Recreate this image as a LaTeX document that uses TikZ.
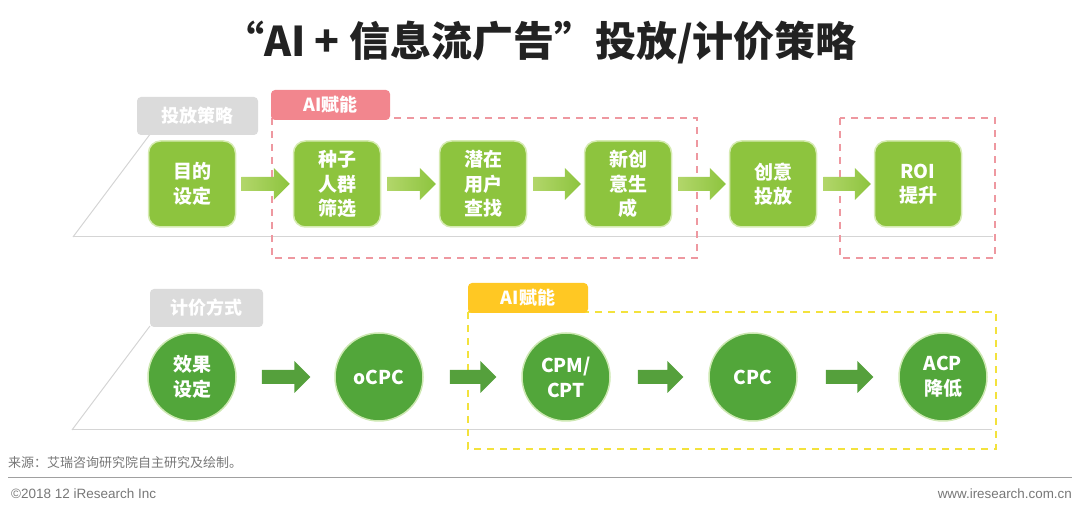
\documentclass[tikz,border=0pt]{standalone}
\usepackage{fontspec}
\setmainfont{Noto Sans CJK SC}
\newfontfamily\arialf{Liberation Sans}
\usetikzlibrary{calc}
\definecolor{limeg}{HTML}{8DC43E}
\definecolor{limel}{HTML}{B2D66A}
\definecolor{darkg}{HTML}{52A63A}
\definecolor{darkarr}{HTML}{55A03C}
\definecolor{tabgray}{HTML}{DBDBDB}
\definecolor{tabpink}{HTML}{F2868E}
\definecolor{tabyel}{HTML}{FFC823}
\definecolor{dashpink}{HTML}{EE98A0}
\definecolor{dashyel}{HTML}{F3E23C}
\definecolor{lgray}{HTML}{D5D5D5}
\definecolor{foot}{HTML}{777777}
\newcommand\fatarr[5]{%
  \shade[#3] let \p1=(#1.east), \p2=(#2.west) in
    (\x1+#4,\y1+7pt) -- (\x2-#5-16pt,\y1+7pt) -- (\x2-#5-16pt,\y1+16pt) -- (\x2-#5,\y1)
    -- (\x2-#5-16pt,\y1-16pt) -- (\x2-#5-16pt,\y1-7pt) -- (\x1+#4,\y1-7pt) -- cycle;}
\begin{document}
\begin{tikzpicture}[x=1pt,y=-1pt,
  sq/.style={fill=limeg, draw={rgb,255:red,214;green,235;blue,178}, line width=1.5pt, rounded corners=12pt,
     minimum width=87pt, minimum height=86pt, align=center, text=white,
     font=\bfseries\fontsize{19}{24.5}\selectfont, inner sep=0pt},
  circ/.style={circle, fill=darkg, draw={rgb,255:red,205;green,232;blue,178}, line width=1.5pt,
     minimum size=88pt, align=center, text=white,
     font=\bfseries\fontsize{19}{25}\selectfont, inner sep=0pt},
  tab/.style={rounded corners=4pt, text=white, font=\bfseries\fontsize{18}{20}\selectfont, inner sep=0pt},
  topar/.style={left color=limel, right color=limeg},
  botar/.style={left color=darkarr, right color=darkarr},
  thinline/.style={draw=lgray, line width=1pt}
]
\useasboundingbox (0,0) rectangle (1080,518);

% title
\node[font=\bfseries\fontsize{41}{45}\selectfont, text={rgb,255:red,34;green,34;blue,34}] (title) at (540,42) {“AI + 信息流广告”投放/计价策略};

% top frame lines
\coordinate (tl1) at (73,237);
\coordinate (tl2) at (151,133);
\coordinate (tl3) at (993,237);
\draw[thinline] (tl1) -- (tl2);
\draw[thinline] (tl1) -- (tl3);
% bottom frame lines
\coordinate (bl1) at (72,430);
\coordinate (bl2) at (150,326);
\coordinate (bl3) at (992,430);
\draw[thinline] (bl1) -- (bl2);
\draw[thinline] (bl1) -- (bl3);

% dashed AI regions
\draw[dashpink, line width=1.3pt, dash pattern=on 7pt off 6pt] (272,118) rectangle (697,258);
\draw[dashpink, line width=1.3pt, dash pattern=on 7pt off 6pt] (840,118) rectangle (995,258);
\draw[dashyel, line width=1.3pt, dash pattern=on 7pt off 6pt] (468,312) rectangle (996,449);

% tabs
\node[tab, fill=tabgray, minimum width=121pt, minimum height=38pt] (tab1) at (197.5,116) {投放策略};
\node[tab, fill=tabpink, minimum width=119pt, minimum height=30pt] (tab2) at (330.5,105) {AI赋能};
\node[tab, fill=tabgray, minimum width=113pt, minimum height=38pt] (tab3) at (206.5,308) {计价方式};
\node[tab, fill=tabyel, minimum width=120pt, minimum height=30pt] (tab4) at (528,298) {AI赋能};

% top boxes
\node[sq] (b1) at (192,184) {目的\\设定};
\node[sq] (b2) at (337,184) {种子\\人群\\筛选};
\node[sq] (b3) at (483,184) {潜在\\用户\\查找};
\node[sq] (b4) at (628,184) {新创\\意生\\成};
\node[sq] (b5) at (773,184) {创意\\投放};
\node[sq] (b6) at (918,184) {ROI\\提升};

\fatarr{b1}{b2}{topar}{5pt}{3pt}
\fatarr{b2}{b3}{topar}{6pt}{3pt}
\fatarr{b3}{b4}{topar}{6pt}{3pt}
\fatarr{b4}{b5}{topar}{6pt}{3pt}
\fatarr{b5}{b6}{topar}{6pt}{3pt}

% bottom circles
\node[circ] (c1) at (192,377) {效果\\设定};
\node[circ] (c2) at (379,377) {oCPC};
\node[circ] (c3) at (566,377) {CPM/\\CPT};
\node[circ] (c4) at (753,377) {CPC};
\node[circ] (c5) at (943,377) {ACP\\降低};

\fatarr{c1}{c2}{botar}{25pt}{24pt}
\fatarr{c2}{c3}{botar}{26pt}{25pt}
\fatarr{c3}{c4}{botar}{27pt}{25pt}
\fatarr{c4}{c5}{botar}{28pt}{25pt}

% footer
\node[anchor=west, inner sep=0pt, text=foot, font=\fontsize{13}{15}\selectfont] (src) at (8,463) {来源：艾瑞咨询研究院自主研究及绘制。};
\coordinate (fl1) at (8,478);
\coordinate (fl2) at (1072,478);
\draw[draw={rgb,255:red,160;green,160;blue,160}, line width=1pt] (fl1) -- (fl2);
\node[anchor=west, inner sep=0pt, text=foot, font=\arialf\fontsize{13.5}{15}\selectfont] (copy) at (11,494) {©2018 12 iResearch Inc};
\node[anchor=east, inner sep=0pt, text=foot, font=\arialf\fontsize{13.4}{15}\selectfont] (web) at (1072,494) {www.iresearch.com.cn};
\end{tikzpicture}
\end{document}
